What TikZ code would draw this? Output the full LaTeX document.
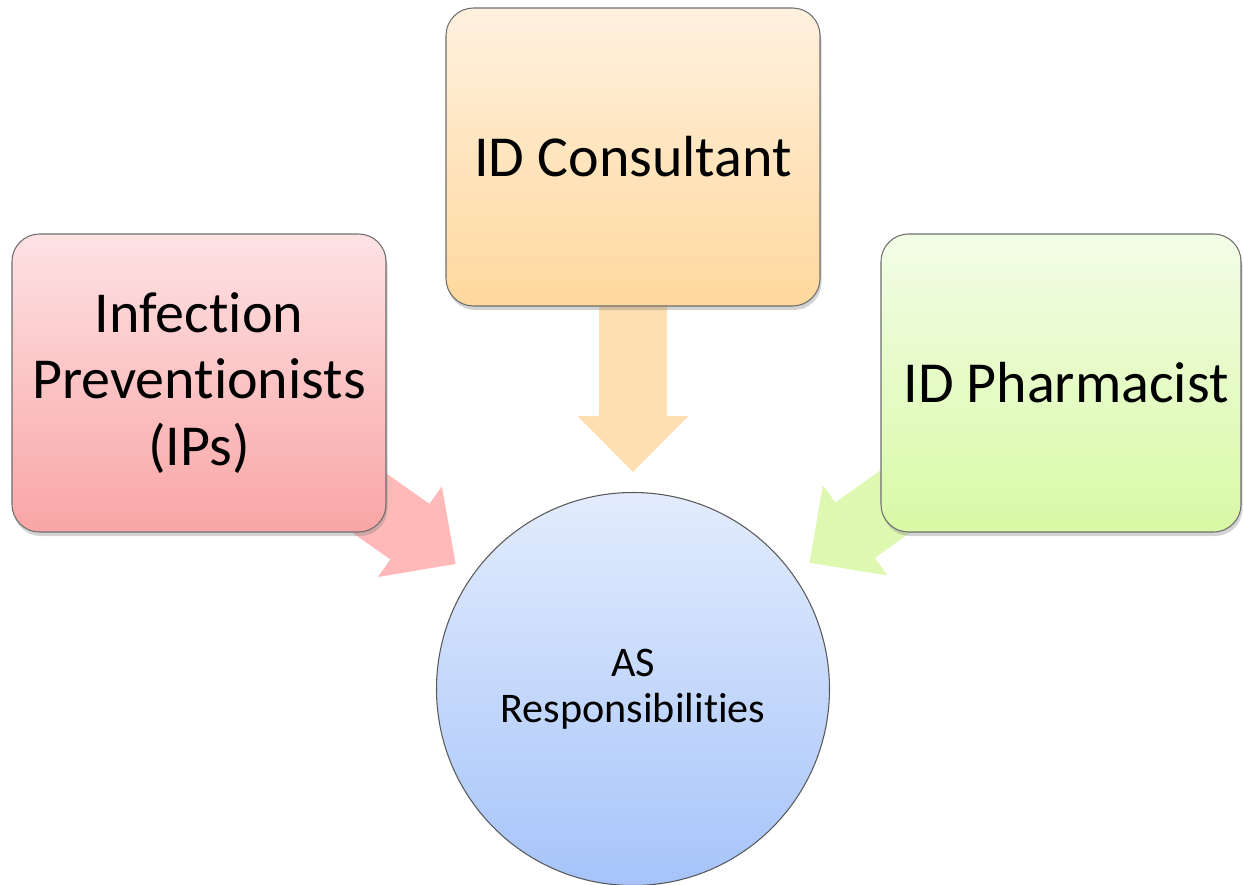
\documentclass[tikz,border=0pt]{standalone}
\usepackage{fontspec}
\setmainfont{Carlito}[Ligatures=NoCommon]
\usepackage{tikz}
\usetikzlibrary{arrows.meta,shadows,backgrounds}

\definecolor{boxline}{HTML}{6E6E6E}
\definecolor{ipstop}{HTML}{FEE2E4}
\definecolor{ipsbot}{HTML}{F9A5A5}
\definecolor{idctop}{HTML}{FFF1DF}
\definecolor{idcbot}{HTML}{FFD89D}
\definecolor{idptop}{HTML}{F2FDE7}
\definecolor{idpbot}{HTML}{D9F9A5}
\definecolor{astop}{HTML}{E3ECFD}
\definecolor{asbot}{HTML}{A6C4FA}
\definecolor{ipsarr}{HTML}{FFB9B9}
\definecolor{idcarr}{HTML}{FFDFB2}
\definecolor{idparr}{HTML}{DEF8B2}

\begin{document}
\begin{tikzpicture}[
  role/.style n args={2}{rectangle,draw=boxline,line width=0.6pt,rounded corners=0.55cm,
    top color=#1,bottom color=#2,minimum width=7.48cm,minimum height=5.96cm,align=center,
    font=\fontsize{33}{38}\selectfont,
    drop shadow={opacity=0.35,shadow xshift=0.03cm,shadow yshift=-0.08cm}},
  hub/.style={circle,draw=boxline!80!black,line width=0.6pt,top color=astop,bottom color=asbot,
    minimum size=7.86cm,inner sep=0pt,align=center,font=\fontsize{24}{26.5}\selectfont},
  flow/.style={line width=1.36cm,draw=#1,shorten >=0.4cm,
    -{Triangle[length=1.12cm,width=2.22cm,line width=0pt]}},
]
\useasboundingbox (0,0) rectangle (24.86,-17.7);

% Stewardship hub
\node[hub] (as) at (12.66,-13.78) {AS\\Responsibilities};

% Team member boxes
\node[role={ipstop}{ipsbot}] (ips) at (3.98,-7.66) {Infection\\Preventionists\\(IPs)};
\node[role={idctop}{idcbot}] (idc) at (12.66,-3.14) {ID Consultant};
\node[role={idptop}{idpbot},minimum width=7.2cm] (idp) at (21.22,-7.66) {\hspace{0.2cm}ID Pharmacist};

% Arrows into the hub, tails hidden behind the boxes
\begin{scope}[on background layer]
\draw[flow=ipsarr] (ips.center) -- (as);
\draw[flow=idcarr] (idc.center) -- (as);
\draw[flow=idparr] (idp.center) -- (as);
\end{scope}

\end{tikzpicture}
\end{document}
